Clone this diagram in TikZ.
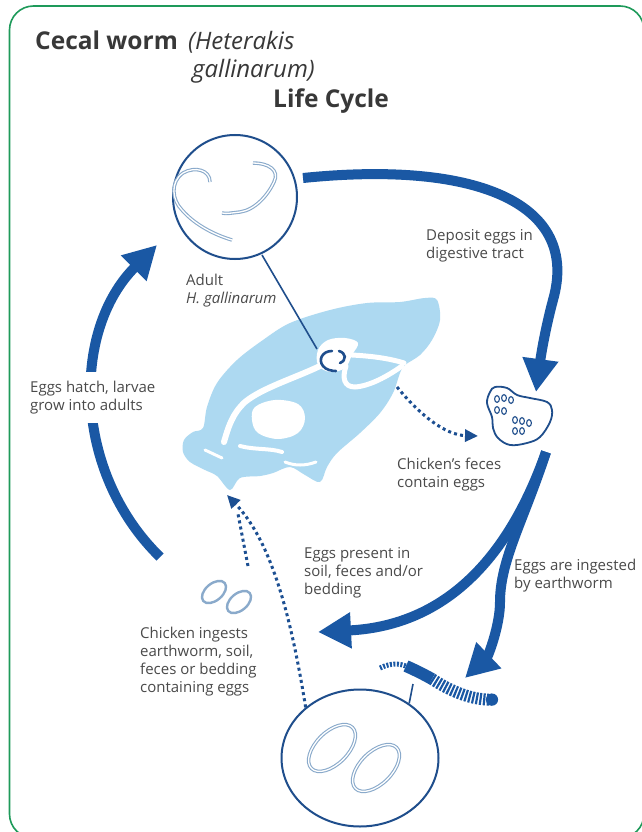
\documentclass[tikz,border=0pt]{standalone}
\usepackage{fontspec}
\setmainfont{Open Sans}
\usetikzlibrary{arrows.meta,shapes.geometric,positioning,calc}

\definecolor{arrowblue}{HTML}{1A58A4}
\definecolor{ringblue}{HTML}{1F4E8C}
\definecolor{dotblue}{HTML}{1C4F92}
\definecolor{chick}{HTML}{ADD9F1}
\definecolor{eggblue}{HTML}{8AAACB}
\definecolor{txtgray}{HTML}{4A4A4A}
\definecolor{titlegray}{HTML}{383838}
\definecolor{framegreen}{HTML}{1E9A5A}

\begin{document}
\begin{tikzpicture}[x=1pt, y=-1pt,
    ring/.style={draw=ringblue, line width=2pt, inner sep=0pt},
    bigarrow/.style={draw=arrowblue, line width=10pt, -{Triangle[length=33pt,width=34pt]}},
    dotarrow/.style={draw=dotblue, line width=3pt, dash pattern=on 3pt off 3.2pt, -{Triangle[length=13pt,width=12pt]}},
    lbl/.style={anchor=north west, inner sep=0pt, align=left, text=txtgray, font=\fontsize{15}{18}\selectfont},
    ttlbf/.style={anchor=base west, inner sep=0pt, text=titlegray, font=\fontsize{24.5}{28}\selectfont\bfseries},
    ttlit/.style={anchor=base west, inner sep=0pt, text=titlegray, font=\fontsize{24}{28}\selectfont\itshape},
    shell/.style={draw=eggblue, double=white, double distance=1.3pt, line width=1.1pt},
    hole/.style={draw=white, line width=5pt, line cap=round}
]
\path[use as bounding box, clip] (0,0) rectangle (642,832);
\fill[white] (0,0) rectangle (642,832);
\draw[framegreen, line width=1.6pt, rounded corners=24pt] (9.5,6) rectangle (644,838);

% title
\node[ttlbf] (ttl) at (35,50) {Cecal worm};
\node[ttlit] (ttlsp) at (188,50) {(Heterakis};
\node[ttlit] (ttlsp2) at (192,78) {gallinarum)};
\node[ttlbf] (ttlcyc) at (273,108) {Life Cycle};

% chicken
\fill[chick] plot[smooth cycle, tension=0.55] coordinates {
  (437,300) (425,298) (400,302) (367,303) (330,310) (290,323) (263,340)
  (237,360) (217,383) (207,407) (203,428) (193,432) (184,440) (183,452)
  (190,462) (205,470) (217,476) (230,490) (240,478) (260,476) (273,473)
  (290,467) (305,475) (320,482) (327,467) (337,453) (360,433) (380,413)
  (393,393) (400,373) (405,365) (420,355) (432,340) (440,320)};
\fill[white] plot[smooth cycle, tension=0.6] coordinates {
  (318,350) (328,340) (345,338) (358,343) (352,355) (345,368) (330,372) (318,365)};
\draw[hole] (352,355) .. controls (370,356) and (388,358) .. (404,363);
\draw[hole] (346,366) .. controls (342,378) and (344,387) .. (355,387)
            .. controls (370,386) and (388,376) .. (402,366);
\draw[hole, line width=6pt] (320,366) .. controls (295,378) and (262,388) .. (245,402)
            .. controls (232,414) and (228,428) .. (224,442);
\fill[white] plot[smooth cycle, tension=0.6] coordinates {
  (255,407) (275,400) (298,404) (305,418) (298,433) (278,439) (258,433) (252,420)};
\draw[hole, line width=4pt] (240,446) .. controls (255,450) and (270,448) .. (282,452);
\draw[hole, line width=3pt] (285,462) .. controls (295,466) and (305,466) .. (316,462);
\draw[hole, line width=3pt] (205,450) -- (222,458);

% adult worm sitting in the caecum
\coordinate (cecum) at (317,349);
\draw[ringblue, line width=2.6pt, line cap=round] (332,351) .. controls (322,351) and (318,360) .. (323,366) .. controls (326,370) and (332,371) .. (336,371);
\draw[ringblue, line width=2.6pt, line cap=round] (339,351) .. controls (346,353) and (347,360) .. (340,363);

% adult worms
\node[ring, circle, fill=white, minimum size=124pt] (adult) at (235,197) {};
\draw[shell] (210,182) .. controls (210,170) and (195,166) .. (183,173)
             .. controls (170,182) and (172,200) .. (182,210)
             .. controls (195,225) and (215,235) .. (232,240);
\draw[shell] (253,163) .. controls (268,163) and (280,170) .. (274,182)
             .. controls (268,195) and (255,210) .. (240,212)
             .. controls (232,213) and (226,214) .. (222,213);
\coordinate (adultpin) at (262,255);
\draw[ringblue, line width=1.6pt] (adultpin) -- (cecum);
\node[lbl] (lbladult) at (186,274) {Adult\\\textit{H. gallinarum}};

% feces with eggs
\coordinate (feces) at (520,416);
\draw[ringblue, line width=1.8pt] plot[smooth cycle, tension=0.6] coordinates {
  (490,392) (495,387) (507,388) (517,395) (530,398) (547,402) (552,410)
  (550,422) (540,437) (527,443) (510,445) (498,438) (493,428) (492,417) (487,403)};
\foreach \ex/\ey in {497/399, 504/398, 511/400, 497/410, 504/411,
                     515/420, 522/421, 529/423, 515/431, 522/431}
  \draw[ringblue, line width=1.1pt] (\ex,\ey) ellipse [x radius=2.4, y radius=3.4];
\node[lbl] (lblfeces) at (397,458) {Chicken’s feces\\contain eggs};

% earthworm
\coordinate (worm) at (413,684);
\draw[arrowblue, line width=5pt, dash pattern=on 2pt off 1.5pt] (380,668) .. controls (390,663) and (400,663) .. (408,667);
\draw[arrowblue, line width=12pt] (406,666) .. controls (415,670) and (425,675) .. (432,679);
\draw[arrowblue, line width=12pt, dash pattern=on 2.2pt off 1.5pt] (432,679) .. controls (455,694) and (475,700) .. (492,699.6);
\fill[arrowblue] (492,699.6) circle [radius=6.1];

% eggs in the soil
\node[ring, ellipse, fill=white, minimum width=157pt, minimum height=137pt] (soil) at (360,758) {};
\draw[ringblue, line width=1.6pt] (worm) -- (soil.48);
\draw[shell, rotate around={45:(332,748)}] (332,748) ellipse [x radius=29, y radius=16];
\draw[shell, rotate around={45:(376,768)}] (376,768) ellipse [x radius=29, y radius=16];

% eggs taken up by the chicken
\draw[eggblue, line width=2.4pt, rotate around={40:(214,592)}] (214,592) ellipse [x radius=14, y radius=8.5];
\draw[eggblue, line width=2.4pt, rotate around={40:(239,602)}] (239,602) ellipse [x radius=14, y radius=8.5];
\node[lbl] (lblingest) at (140,627) {Chicken ingests\\earthworm, soil,\\feces or bedding\\containing eggs};

% cycle arrows
\coordinate (depstart) at (303,178);
\coordinate (depbend) at (553,300);
\coordinate (deptip) at (536,392);
\draw[bigarrow] (depstart) .. controls (480,160) and (580,205) .. (depbend)
                .. controls (545,330) and (541,355) .. (deptip);
\node[lbl] (lbldeposit) at (426,229) {Deposit eggs in\\digestive tract};

\coordinate (fork) at (546,452);
\coordinate (wormbend) at (500,602);
\coordinate (soiltip) at (318,632);
\coordinate (wormtip) at (465,678);
\draw[bigarrow] (fork) .. controls (515,540) and (458,625) .. (soiltip);
\draw[bigarrow] (fork) .. controls (524,520) and (500,560) .. (wormbend)
                .. controls (500,626) and (488,656) .. (wormtip);
\node[lbl] (lblpresent) at (304,547) {Eggs present in\\soil, feces and/or\\bedding};
\node[lbl] (lblworm) at (514,559) {Eggs are ingested\\by earthworm};

\coordinate (hatchstart) at (160,557);
\coordinate (hatchtip) at (157,245);
\draw[bigarrow] (hatchstart) .. controls (73,472) and (71,331) .. (hatchtip);
\node[lbl, fill=white, inner ysep=9pt] (lblhatch) at (30,372) {Eggs hatch, larvae\\grow into adults};

% dotted routes
\coordinate (feet) at (227,495);
\coordinate (dropstart) at (397,387);
\coordinate (droptip) at (478,436);
\draw[dotarrow] (dropstart) .. controls (420,415) and (445,435) .. (droptip);
\draw[dotarrow] (soil.137) .. controls (290,610) and (270,540) .. (feet);
\draw[dotblue, line width=3pt, dash pattern=on 3pt off 3.2pt] (248,566) -- (238,514);
\end{tikzpicture}
\end{document}
